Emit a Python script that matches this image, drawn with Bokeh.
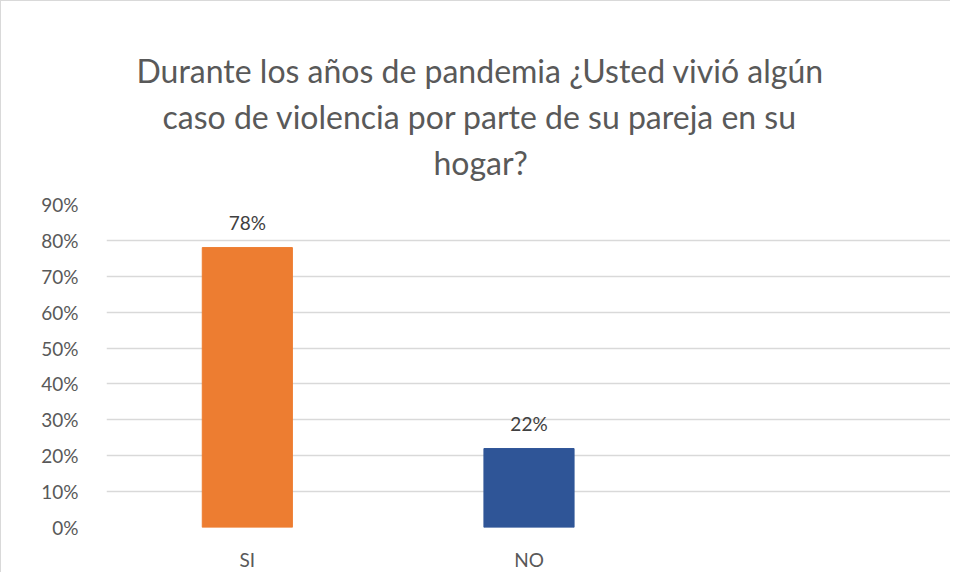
from bokeh.plotting import figure
from bokeh.models import ColumnDataSource, FixedTicker, NumeralTickFormatter, Title, FactorRange, Range1d, LabelSet
from bokeh.core.properties import value
from bokeh.embed import file_html
from bokeh.resources import INLINE

categories = ["SI", "NO"]
axis_factors = ["SI", "NO", " "]
values = [0.78, 0.22]
labels = ["78%", "22%"]
colors = ["#ED7D31", "#2F5597"]
y_ticks = [0.0, 0.1, 0.2, 0.3, 0.4, 0.5, 0.6, 0.7, 0.8, 0.9]
title_lines = ["Durante los años de pandemia ¿Usted vivió algún",
               "caso de violencia por parte de su pareja en su",
               "hogar?"]

FONT = "Lato"
GREY = "#595959"

src = ColumnDataSource(dict(cat=categories, val=values, lab=labels, col=colors))

p = figure(width=950, height=572, x_range=FactorRange(*axis_factors), y_range=Range1d(0, 0.9),
           output_backend="svg", toolbar_location=None,
           min_border_left=105, min_border_right=0, min_border_bottom=0, min_border_top=203)
p.title = None
# left-aligned titles shifted so each line is centred on the chart (x ~ 478)
offsets = [30, 56, 327]
standoffs = [45, -35, 45]
for line, off, so in reversed(list(zip(title_lines, offsets, standoffs))):
    t = Title(text=line, align="left", offset=off, standoff=so, text_font=FONT,
              text_font_size="32px", text_color=GREY, text_font_style="normal")
    p.add_layout(t, "above")

p.vbar(x="cat", top="val", width=0.32, color="col", source=src)
p.add_layout(LabelSet(x="cat", y="val", text="lab", source=src, y_offset=14,
                      text_align="center", text_baseline="bottom", text_font=value(FONT),
                      text_font_size="19px", text_color="#404040"))

p.yaxis.ticker = FixedTicker(ticks=y_ticks)
p.yaxis.formatter = NumeralTickFormatter(format="0%")
for ax in (p.xaxis[0], p.yaxis[0]):
    ax.axis_line_color = None
    ax.major_tick_line_color = None
    ax.minor_tick_line_color = None
    ax.major_label_text_font = FONT
    ax.major_label_text_font_size = "19px"
    ax.major_label_text_color = GREY
p.yaxis.major_label_standoff = 22
p.xaxis.major_label_standoff = 14
p.xgrid.grid_line_color = None
p.ygrid.grid_line_color = "#d9d9d9"
p.ygrid.grid_line_width = 1.3
p.outline_line_color = None
p.border_fill_color = "white"
p.background_fill_color = "white"
p.styles = {"border-top": "1px solid #d9d9d9", "border-left": "1px solid #d9d9d9"}

open("out.html", "w").write(file_html(p, INLINE))
